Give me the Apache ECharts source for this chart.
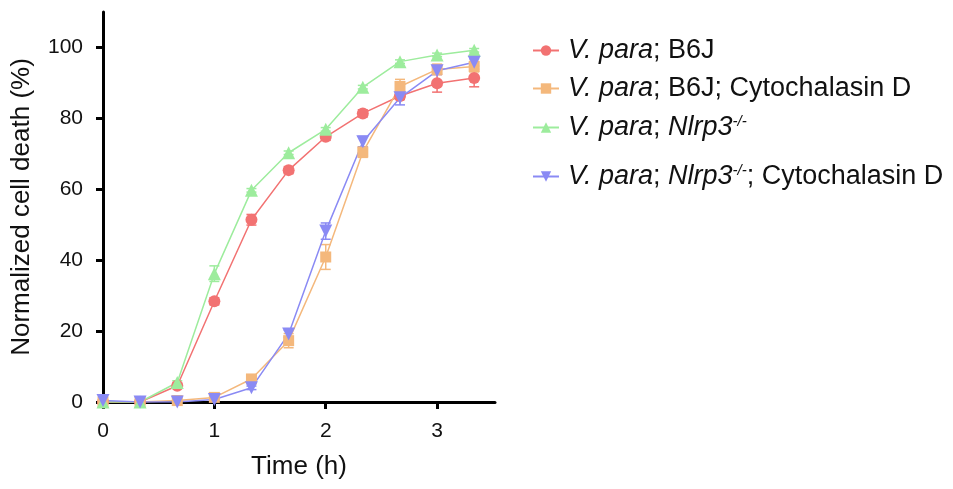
<!DOCTYPE html>
<html>
<head>
<meta charset="utf-8">
<script src="https://cdn.jsdelivr.net/npm/echarts@6/dist/echarts.min.js"></script>
<style>
  html, body { margin: 0; padding: 0; background: #fff; }
  #chart { width: 953px; height: 489px; }
</style>
</head>
<body>
<div id="chart"></div>
<script>
// time points (h)
const times = [0, 0.333, 0.667, 1, 1.333, 1.667, 2, 2.333, 2.667, 3, 3.333];

// normalized cell death (%) and error (SEM)
const b6j = [0, 0, 4.6, 28.4, 51.4, 65.4, 74.8, 81.4, 86.3, 89.9, 91.4];
const b6jErr = [0, 0, 0.8, 1.0, 1.5, 1, 1, 1, 1, 2.5, 2.5];
const b6jCyto = [0, 0, 0.4, 1.3, 6.5, 17.3, 40.9, 70.5, 89.0, 93.8, 94.6];
const b6jCytoErr = [0, 0, 0, 0.5, 0.8, 2, 3.5, 1.5, 2, 1.5, 1.5];
const nlrp3 = [0, 0, 5.5, 36.2, 59.7, 70.3, 76.9, 88.8, 96.0, 97.9, 99.2];
const nlrp3Err = [0, 0, 0.5, 2.2, 0.5, 0.5, 0.5, 0.5, 0.5, 0.5, 0.5];
const nlrp3Cyto = [0.4, 0, 0, 0.7, 4.0, 19.2, 48.2, 73.4, 85.8, 93.4, 95.8];
const nlrp3CytoErr = [0, 0, 0, 0.3, 0.5, 1, 2.3, 1.5, 2, 1, 1];

const xTicks = [0, 1, 2, 3];
const yTicks = [0, 20, 40, 60, 80, 100];

const names = ['b6j', 'b6jCyto', 'nlrp3', 'nlrp3Cyto'];
const colors = ['#f27272', '#f4b87c', '#9dec9d', '#8a8af4'];
const symbols = ['circle', 'rect', 'triangle', 'path://M0,0 L10,0 L5,9 Z'];
const sizes = [12, 11, 13, 13];
const values = [b6j, b6jCyto, nlrp3, nlrp3Cyto];
const errs = [b6jErr, b6jCytoErr, nlrp3Err, nlrp3CytoErr];

const font = 'Liberation Sans, Arial, sans-serif';

const labels = {
  b6j: '{v|V. para}{n|; B6J}',
  b6jCyto: '{v|V. para}{n|; B6J; Cytochalasin D}',
  nlrp3: '{v|V. para}{n|; }{i|Nlrp3}{s|-/-}',
  nlrp3Cyto: '{v|V. para}{n|; }{i|Nlrp3}{s|-/-}{n|; Cytochalasin D}'
};
const legendTops = [32, 70, 109, 158];

const rich = {
  v: { fontStyle: 'italic', fontSize: 27, fontFamily: font, color: '#111', padding: [0, 0, 0, 4] },
  i: { fontStyle: 'italic', fontSize: 27, fontFamily: font, color: '#111' },
  n: { fontSize: 27, fontFamily: font, color: '#111' },
  s: { fontStyle: 'italic', fontSize: 15, fontFamily: font, color: '#111', verticalAlign: 'top', padding: [0, 0, 12, 0] }
};

const series = [];
names.forEach(function (n, k) {
  series.push({
    name: n,
    type: 'line',
    z: 2,
    data: times.map(function (t, j) { return [t, values[k][j]]; }),
    symbol: symbols[k],
    symbolSize: sizes[k],
    showAllSymbol: true,
    itemStyle: { color: colors[k], opacity: 1 },
    lineStyle: { color: colors[k], width: 1.5 },
    emphasis: { disabled: true }
  });
});
names.forEach(function (n, k) {
  series.push({
    name: n,
    type: 'custom',
    z: 1,
    silent: true,
    data: times.map(function (t, j) { return [t, values[k][j], errs[k][j]]; }),
    renderItem: function (params, api) {
      const e = api.value(2);
      if (!e) return null;
      const top = api.coord([api.value(0), api.value(1) + e]);
      const bot = api.coord([api.value(0), api.value(1) - e]);
      const w = 5;
      const st = { stroke: colors[k], lineWidth: 1.5 };
      return {
        type: 'group',
        children: [
          { type: 'line', shape: { x1: top[0], y1: top[1], x2: bot[0], y2: bot[1] }, style: st },
          { type: 'line', shape: { x1: top[0] - w, y1: top[1], x2: top[0] + w, y2: top[1] }, style: st },
          { type: 'line', shape: { x1: bot[0] - w, y1: bot[1], x2: bot[0] + w, y2: bot[1] }, style: st }
        ]
      };
    }
  });
});

const legends = names.map(function (n, k) {
  return {
    data: [n],
    left: 527,
    top: legendTops[k],
    itemWidth: 26,
    itemHeight: 13,
    itemGap: 14,
    formatter: function (name) { return labels[name]; },
    textStyle: { rich: rich }
  };
});

const chart = echarts.init(document.getElementById('chart'));
chart.setOption({
  animation: false,
  color: colors,
  legend: legends,
  grid: { left: 103, right: 458, top: 12, bottom: 87, containLabel: false },
  xAxis: {
    type: 'value',
    min: 0,
    max: 3.52,
    name: 'Time (h)',
    nameLocation: 'middle',
    nameGap: 52,
    nameTextStyle: { fontSize: 26, fontFamily: font, color: '#111' },
    axisLine: { lineStyle: { color: '#000', width: 3 } },
    axisTick: { length: 7, lineStyle: { width: 3, color: '#000' }, customValues: xTicks },
    axisLabel: { fontSize: 21, fontFamily: font, color: '#111', margin: 19, customValues: xTicks },
    splitLine: { show: false }
  },
  yAxis: {
    type: 'value',
    min: 0,
    max: 110,
    name: 'Normalized cell death (%)',
    nameLocation: 'middle',
    nameGap: 68,
    nameTextStyle: { fontSize: 26, fontFamily: font, color: '#111' },
    axisLine: { show: true, lineStyle: { color: '#000', width: 3 } },
    axisTick: { show: true, length: 7, lineStyle: { width: 3, color: '#000' }, customValues: yTicks },
    axisLabel: { fontSize: 21, fontFamily: font, color: '#111', margin: 20, customValues: yTicks },
    splitLine: { show: false }
  },
  series: series
});
</script>
</body>
</html>
